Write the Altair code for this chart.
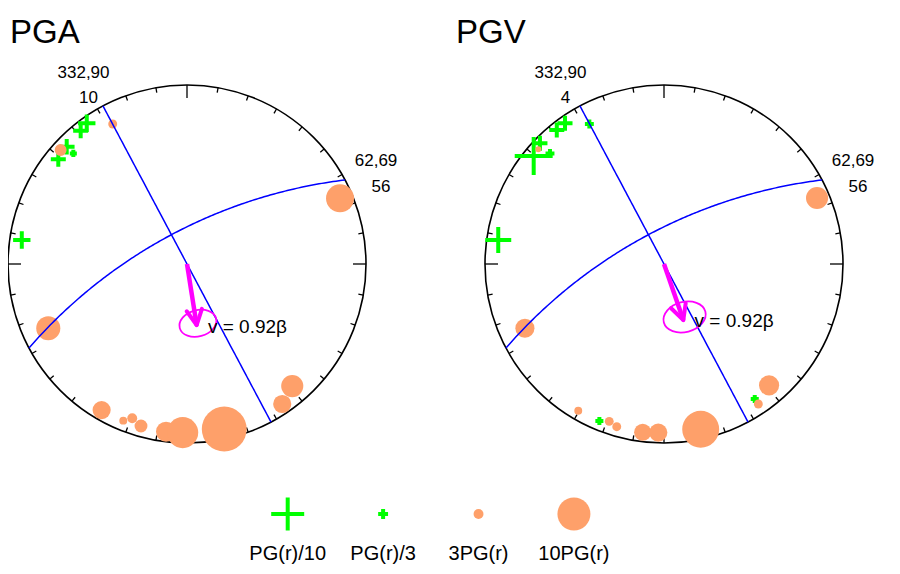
import numpy as np
import pandas as pd
import altair as alt

# station markers on the unit net (x east, y north); ratio = PG / PG(r)
pga_x = [-0.923, -0.560, -0.594, -0.672, -0.719, -0.635,
         -0.415, -0.706, 0.855, -0.775, -0.477, -0.356, -0.306, -0.257,
         -0.117, -0.024, 0.208, 0.532, 0.588]
pga_y = [0.134, 0.786, 0.745, 0.655, 0.585, 0.618,
         0.782, 0.637, 0.367, -0.359, -0.816, -0.875, -0.862, -0.905,
         -0.937, -0.942, -0.922, -0.782, -0.682]
pga_ratio = [0.19, 0.19, 0.22, 0.21, 0.22, 0.47,
             2.7, 3.6, 8.5, 7.3, 5.5, 2.4, 3.0, 3.9,
             6.1, 9.4, 13.6, 5.5, 6.7]

pgv_x = [-0.926, -0.728, -0.693, -0.599, -0.553, -0.417, -0.637, -0.361, 0.507,
         -0.702, 0.855, -0.777, -0.479, -0.306, -0.264, -0.119, -0.032, 0.205, 0.587, 0.527]
pgv_y = [0.134, 0.603, 0.674, 0.749, 0.786, 0.782, 0.618, -0.877, -0.754,
         0.641, 0.369, -0.359, -0.820, -0.879, -0.909, -0.940, -0.942, -0.923, -0.678, -0.782]
pgv_ratio = [0.127, 0.087, 0.22, 0.22, 0.22, 0.37, 0.37, 0.41, 0.41,
             1.8, 6.7, 5.8, 2.4, 2.7, 2.7, 5.2, 5.5, 11.2, 6.1, 2.7]

# fault planes (strike, dip) and the number printed under each label
plane_strike = [332, 62]
plane_dip = [90, 69]
pga_counts = ["10", "56"]
pgv_counts = ["4", "56"]

# rupture direction arrow tip and its error ellipse
tip_x = [0.054, 0.108]
tip_y = [-0.341, -0.313]
ell_x = [0.061, 0.115]
ell_y = [-0.331, -0.296]
ell_a = [0.105, 0.120]
ell_b = [0.074, 0.078]
velocity = ["v = 0.92\u03b2", "v = 0.92\u03b2"]

panels = ["PGA", "PGV"]
legend_labels = ["PG(r)/10", "PG(r)/3", "3PG(r)", "10PG(r)"]
legend_ratio = [0.1, 1 / 3, 3, 10]

# layout (net radius in px, panel offsets in net units)
PX = 179
OFF = [0.0, 477 / PX]
XDOM = [-1.0, 884 / PX - 1.0]
YDOM = [-(558 - 256) / PX, 256 / PX]
title_pos = [(-0.989, 1.2346), (-1.162, 1.2346)]
name_pos = [(-0.578, 1.067), (1.056, 0.575)]
count_pos = [(-0.550, 0.927), (1.084, 0.430)]
legend_x0, legend_dx, legend_y, legend_ty = 0.5626, 0.533, -1.3966, -1.620

FONT = "Liberation Sans"
ORANGE = "#FEA06A"
GREEN = "#00FF00"
CROSS = "M-1,0H1M0,-1V1"
k, b = 0.5523, 0.7
ELLIPSE = (f"M1,0C1,{k*b} {k},{b} 0,{b}C{-k},{b} -1,{k*b} -1,0"
           f"C-1,{-k*b} {-k},{-b} 0,{-b}C{k},{-b} 1,{-k*b} 1,0Z")

X = lambda f="x": alt.X(f"{f}:Q", scale=alt.Scale(domain=XDOM), axis=None)
Y = lambda f="y": alt.Y(f"{f}:Q", scale=alt.Scale(domain=YDOM), axis=None)
SIZE = alt.Size("f:Q", scale=alt.Scale(type="pow", exponent=2, domain=[0, 10], range=[0, 1089]),
                legend=None)


def great_circle(strike, dip, n=181):
    dd = np.radians(strike - 90)
    s = np.array([np.sin(np.radians(strike)), np.cos(np.radians(strike)), 0.0])
    d = np.array([np.cos(np.radians(dip)) * np.sin(dd), np.cos(np.radians(dip)) * np.cos(dd),
                  np.sin(np.radians(dip))])
    t = np.linspace(0, np.pi, n)
    v = np.outer(np.cos(t), s) + np.outer(np.sin(t), d)
    plunge = np.arcsin(np.clip(v[:, 2], -1, 1))
    trend = np.arctan2(v[:, 0], v[:, 1])
    r = np.tan((np.pi / 2 - plunge) / 2)
    return r * np.sin(trend), r * np.cos(trend)


marks, nets, ticks, planes, arrows, ells, texts = [], [], [], [], [], [], []
for p, (px, py, pr, counts) in enumerate([(pga_x, pga_y, pga_ratio, pga_counts),
                                           (pgv_x, pgv_y, pgv_ratio, pgv_counts)]):
    o = OFF[p]
    for x, y, r in zip(px, py, pr):
        marks.append({"x": x + o, "y": y, "f": r if r >= 1 else 1 / r, "kind": "up" if r >= 1 else "down"})
    nets.append({"x": o, "y": 0.0})
    for az in range(0, 360, 10):
        L = (13 if az % 90 == 0 else 5) / PX
        a = np.radians(az)
        ticks.append({"x": o + np.sin(a), "y": np.cos(a),
                      "x2": o + (1 - L) * np.sin(a), "y2": (1 - L) * np.cos(a)})
    for j, (st, dp) in enumerate(zip(plane_strike, plane_dip)):
        gx, gy = great_circle(st, dp)
        for i, (a_, b_) in enumerate(zip(gx, gy)):
            planes.append({"x": a_ + o, "y": b_, "key": f"{p}-{j}", "i": i})
        texts.append({"x": name_pos[j][0] + o, "y": name_pos[j][1], "t": f"{st},{dp}", "kind": "lab"})
        texts.append({"x": count_pos[j][0] + o, "y": count_pos[j][1], "t": counts[j], "kind": "lab"})
    # arrow shaft and head
    tx, ty = tip_x[p], tip_y[p]
    arrows.append({"x": o, "y": 0.0, "x2": tx + o, "y2": ty, "w": "shaft"})
    back = np.array([-tx, -ty]) / np.hypot(tx, ty)
    for ang in (27, -27):
        c, s_ = np.cos(np.radians(ang)), np.sin(np.radians(ang))
        dx, dy = back[0] * c - back[1] * s_, back[0] * s_ + back[1] * c
        arrows.append({"x": tx + o, "y": ty, "x2": tx + o + dx * 17 / PX, "y2": ty + dy * 17 / PX, "w": "head"})
    ells.append({"x": ell_x[p] + o, "y": ell_y[p], "esize": (2 * ell_a[p] * PX) ** 2})
    texts.append({"x": ell_x[p] + o, "y": ell_y[p], "t": velocity[p], "kind": "vel"})
    texts.append({"x": title_pos[p][0] + o, "y": title_pos[p][1], "t": panels[p], "kind": "title"})

legend = pd.DataFrame({"x": [legend_x0 + i * legend_dx for i in range(4)], "y": legend_y,
                       "ty": legend_ty, "t": legend_labels,
                       "f": [r if r >= 1 else 1 / r for r in legend_ratio],
                       "kind": ["up" if r >= 1 else "down" for r in legend_ratio]})
marks = pd.DataFrame(marks)
texts = pd.DataFrame(texts)
arrows = pd.DataFrame(arrows)

outline = alt.Chart(pd.DataFrame(nets)).mark_point(
    shape="circle", filled=False, color="black", strokeWidth=1.6, opacity=1,
    size=(2 * PX) ** 2).encode(x=X(), y=Y())
tick_layer = alt.Chart(pd.DataFrame(ticks)).mark_rule(color="black", strokeWidth=1.3).encode(
    x=X(), y=Y(), x2="x2:Q", y2="y2:Q")
crosses = alt.Chart(pd.concat([marks, legend])).transform_filter("datum.kind == 'down'").mark_point(
    shape=CROSS, filled=False, color=GREEN, strokeWidth=4, opacity=1).encode(x=X(), y=Y(), size=SIZE)
circles = alt.Chart(pd.concat([marks, legend])).transform_filter("datum.kind == 'up'").mark_circle(
    color=ORANGE, opacity=1).encode(x=X(), y=Y(), size=SIZE)
plane_layer = alt.Chart(pd.DataFrame(planes)).mark_line(color="#0000FF", strokeWidth=1.5).encode(
    x=X(), y=Y(), detail="key:N", order="i:Q")
ell_layer = alt.Chart(pd.DataFrame(ells)).mark_point(
    shape=ELLIPSE, filled=False, color="#FF00FF", strokeWidth=1.8, opacity=1, angle=345).encode(
    x=X(), y=Y(), size=alt.Size("esize:Q", scale=None, legend=None))
shaft = alt.Chart(arrows).transform_filter("datum.w == 'shaft'").mark_rule(
    color="#FF00FF", strokeWidth=4.5).encode(x=X(), y=Y(), x2="x2:Q", y2="y2:Q")
head = alt.Chart(arrows).transform_filter("datum.w == 'head'").mark_rule(
    color="#FF00FF", strokeWidth=4, strokeCap="round").encode(x=X(), y=Y(), x2="x2:Q", y2="y2:Q")
lab = alt.Chart(texts).transform_filter("datum.kind == 'lab'").mark_text(
    font=FONT, fontSize=17, align="center", baseline="middle", color="black").encode(
    x=X(), y=Y(), text="t:N")
vel = alt.Chart(texts).transform_filter("datum.kind == 'vel'").mark_text(
    font=FONT, fontSize=19, align="left", baseline="middle", dx=10, dy=4, color="black").encode(
    x=X(), y=Y(), text="t:N")
ttl = alt.Chart(texts).transform_filter("datum.kind == 'title'").mark_text(
    font=FONT, fontSize=33, align="left", baseline="alphabetic", color="black").encode(
    x=X(), y=Y(), text="t:N")
leg_text = alt.Chart(legend).mark_text(
    font=FONT, fontSize=20, align="center", baseline="middle", color="black").encode(
    x=X(), y=Y("ty"), text="t:N")

chart = alt.layer(outline, tick_layer, crosses, circles, plane_layer, ell_layer, shaft, head,
                  lab, vel, ttl, leg_text).properties(
    width=884, height=558, padding=0, autosize=alt.AutoSizeParams(type="none"))
chart = chart.configure_view(strokeWidth=0)
chart.save("out.html", embed_options={"renderer": "svg", "actions": False})
